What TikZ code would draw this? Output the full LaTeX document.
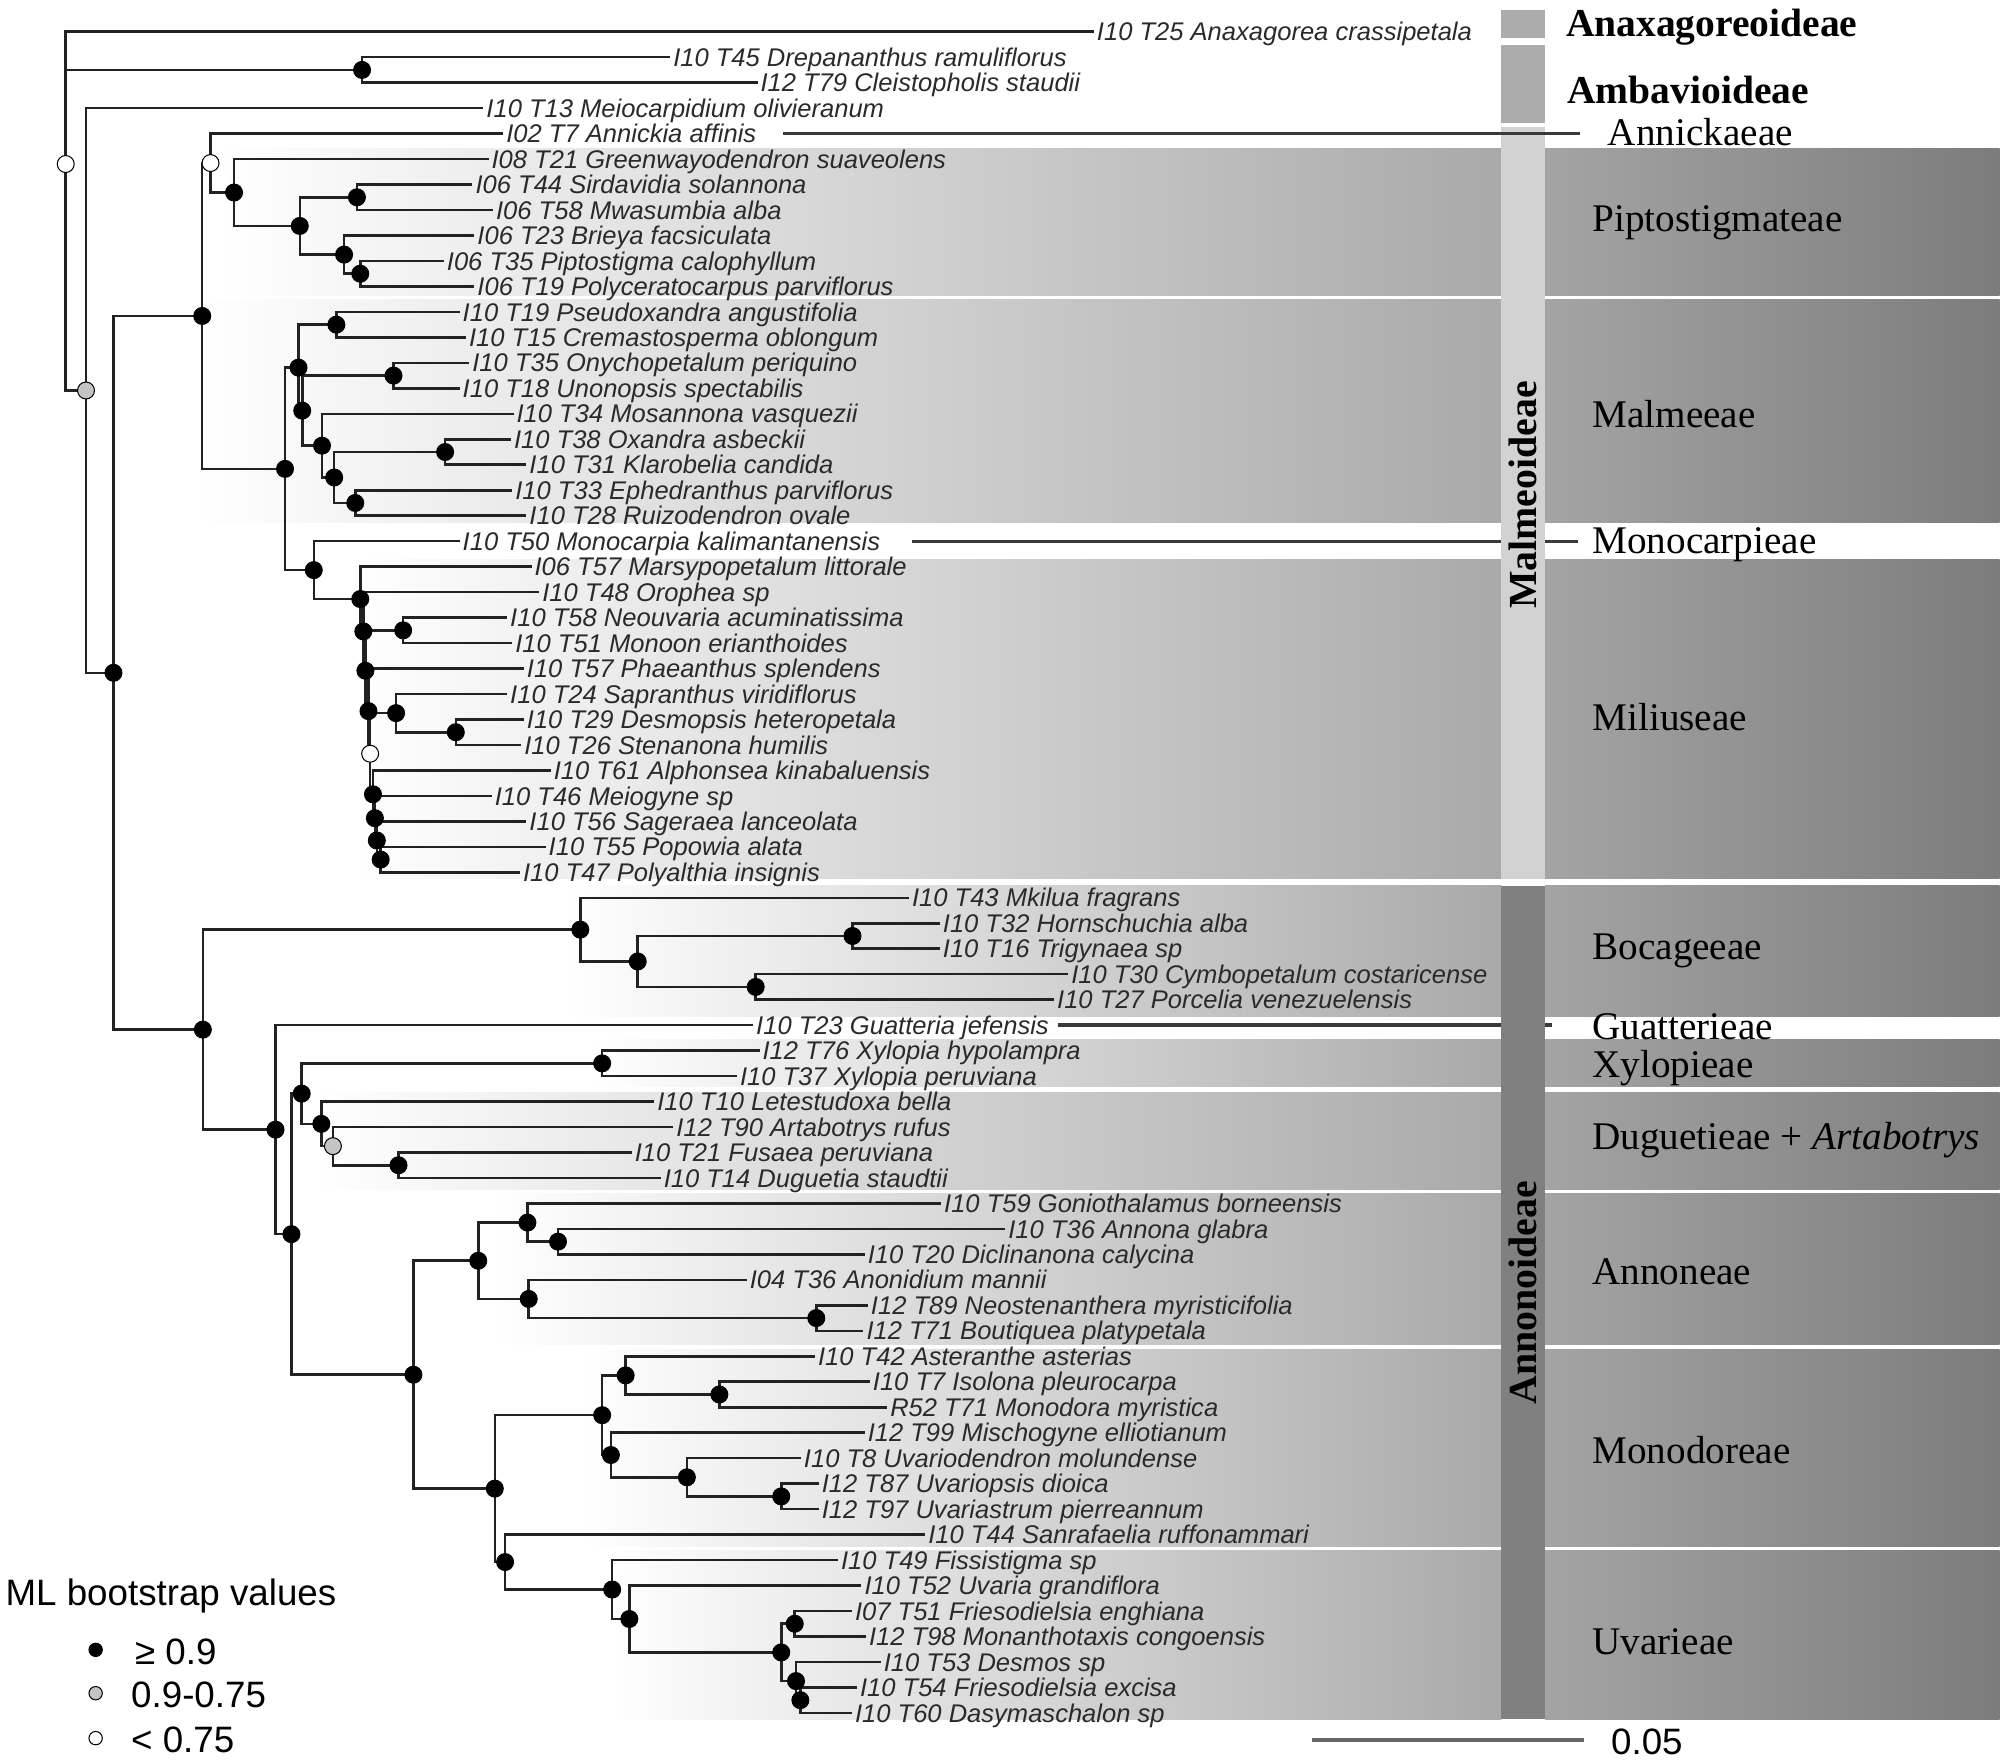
\documentclass[tikz,border=0pt]{standalone}
\usepackage{fontspec}
\setmainfont{Liberation Serif}
\setsansfont{Liberation Sans}
\definecolor{branch}{HTML}{222222}
\definecolor{txt}{HTML}{2A2A2A}
\definecolor{bandL}{HTML}{A9A9A9}
\definecolor{bandR1}{HTML}{A4A4A4}
\definecolor{bandR2}{HTML}{7C7C7C}
\definecolor{barA}{HTML}{ABABAB}
\definecolor{barM}{HTML}{D2D2D2}
\definecolor{barN}{HTML}{808080}
\definecolor{gdot}{HTML}{C4C4C4}
\definecolor{extl}{HTML}{3A3A3A}
\definecolor{scl}{HTML}{666666}
\begin{document}
\begin{tikzpicture}[x=0.5pt,y=-0.5pt,
  taxon/.style={font=\fontsize{9.95pt}{10pt}\selectfont\sffamily\itshape, anchor=west,
    inner xsep=1pt, inner ysep=0pt, text height=7.1pt, text depth=0pt, text=txt},
  br/.style={draw=branch, line width=1pt},
  dotb/.style={circle, draw=black, line width=0.4pt, inner sep=0pt, minimum size=6.6pt},
  blk/.style={dotb, fill=black},
  gry/.style={dotb, fill=gdot},
  wht/.style={dotb, fill=white},
  clade/.style={font=\fontsize{15.25pt}{16pt}\selectfont\rmfamily, anchor=west,
    inner sep=0pt, text height=10.1pt, text depth=0pt},
  cladeb/.style={font=\fontsize{15.4pt}{16pt}\selectfont\rmfamily\bfseries, anchor=west,
    inner sep=0pt, text height=10.2pt, text depth=0pt},
  subf/.style={font=\fontsize{15.5pt}{16pt}\selectfont\rmfamily\bfseries, rotate=90,
    inner sep=0pt, text height=10.3pt, text depth=0pt},
  legtext/.style={font=\fontsize{14.3pt}{15pt}\selectfont\sffamily, anchor=west,
    inner sep=0pt, text height=10.2pt, text depth=0pt},
  ext/.style={draw=extl, line width=1.3pt},
  legdot/.style={circle, draw=black, line width=0.4pt, inner sep=0pt, minimum size=5.2pt}
]
\useasboundingbox (0,0) rectangle (1564,1372.4);

% ---------- background bands ----------
\foreach \xs/\ya/\yb in {172/116/230, 154/233/407, 275/436/684.6, 440/690/792,
    460/810/846, 245/851/926.5, 385/929.5/1047.5, 455/1051/1204.5, 475/1207.5/1339}{
  \shade[left color=white, right color=bandL] (\xs,\ya) rectangle (1169.3,\yb);
  \shade[left color=bandR1, right color=bandR2] (1203.4,\ya) rectangle (1557.4,\yb);
}

% ---------- tree (row coordinates) ----------
\begin{scope}[y=-9.92pt, yshift=-2.43pt]
\foreach \i/\x/\t in {
1/852/{I10 T25 Anaxagorea crassipetala},
2/522/{I10 T45 Drepananthus ramuliflorus},
3/590/{I12 T79 Cleistopholis staudii},
4/376.5/{I10 T13 Meiocarpidium olivieranum},
5/392/{I02 T7 Annickia affinis},
6/380.5/{I08 T21 Greenwayodendron suaveolens},
7/368/{I06 T44 Sirdavidia solannona},
8/384/{I06 T58 Mwasumbia alba},
9/369.5/{I06 T23 Brieya facsiculata},
10/345.7/{I06 T35 Piptostigma calophyllum},
11/369.5/{I06 T19 Polyceratocarpus parviflorus},
12/358/{I10 T19 Pseudoxandra angustifolia},
13/363/{I10 T15 Cremastosperma oblongum},
14/365.5/{I10 T35 Onychopetalum periquino},
15/358/{I10 T18 Unonopsis spectabilis},
16/400/{I10 T34 Mosannona vasquezii},
17/398/{I10 T38 Oxandra asbeckii},
18/410/{I10 T31 Klarobelia candida},
19/399/{I10 T33 Ephedranthus parviflorus},
20/410/{I10 T28 Ruizodendron ovale},
21/358/{I10 T50 Monocarpia kalimantanensis},
22/414/{I06 T57 Marsypopetalum littorale},
23/420/{I10 T48 Orophea sp},
24/395/{I10 T58 Neouvaria acuminatissima},
25/399/{I10 T51 Monoon erianthoides},
26/408/{I10 T57 Phaeanthus splendens},
27/395/{I10 T24 Sapranthus viridiflorus},
28/408/{I10 T29 Desmopsis heteropetala},
29/406/{I10 T26 Stenanona humilis},
30/429/{I10 T61 Alphonsea kinabaluensis},
31/383/{I10 T46 Meiogyne sp},
32/410/{I10 T56 Sageraea lanceolata},
33/425/{I10 T55 Popowia alata},
34/405/{I10 T47 Polyalthia insignis},
35/708/{I10 T43 Mkilua fragrans},
36/732/{I10 T32 Hornschuchia alba},
37/732/{I10 T16 Trigynaea sp},
38/832/{I10 T30 Cymbopetalum costaricense},
39/821/{I10 T27 Porcelia venezuelensis},
40/586.6/{I10 T23 Guatteria jefensis},
41/591.6/{I12 T76 Xylopia hypolampra},
42/574/{I10 T37 Xylopia peruviana},
43/509.6/{I10 T10 Letestudoxa bella},
44/524.5/{I12 T90 Artabotrys rufus},
45/492/{I10 T21 Fusaea peruviana},
46/514.6/{I10 T14 Duguetia staudtii},
47/733/{I10 T59 Goniothalamus borneensis},
48/783/{I10 T36 Annona glabra},
49/673.5/{I10 T20 Diclinanona calycina},
50/581.6/{I04 T36 Anonidium mannii},
51/676/{I12 T89 Neostenanthera myristicifolia},
52/672.5/{I12 T71 Boutiquea platypetala},
53/634.8/{I10 T42 Asteranthe asterias},
54/677.5/{I10 T7 Isolona pleurocarpa},
55/691/{R52 T71 Monodora myristica},
56/673.5/{I12 T99 Mischogyne elliotianum},
57/623.8/{I10 T8 Uvariodendron molundense},
58/637.7/{I12 T87 Uvariopsis dioica},
59/637.7/{I12 T97 Uvariastrum pierreannum},
60/720.7/{I10 T44 Sanrafaelia ruffonammari},
61/652.7/{I10 T49 Fissistigma sp},
62/671/{I10 T52 Uvaria grandiflora},
63/663.6/{I07 T51 Friesodielsia enghiana},
64/674.5/{I12 T98 Monanthotaxis congoensis},
65/686/{I10 T53 Desmos sp},
66/667.5/{I10 T54 Friesodielsia excisa},
67/663.6/{I10 T60 Dasymaschalon sp}}{
  \node[taxon] (t\i) at (\x,\i) {\t};
}

\coordinate (nRoot) at (51.2,6.1946);
\coordinate (nDC) at (282,2.5);
\coordinate (nG) at (67,15.0838);
\coordinate (nBig) at (88.4,26.1676);
\coordinate (nMalm) at (157.5,12.1589);
\coordinate (nAnn) at (164,6.15625);
\coordinate (nPip) at (182.3,7.3125);
\coordinate (nP2) at (233.5,8.625);
\coordinate (nSM) at (278,7.5);
\coordinate (nP3) at (268,9.75);
\coordinate (nPP) at (280.6,10.5);
\coordinate (nMalMil) at (222,18.1616);
\coordinate (nM1) at (232.5,14.1875);
\coordinate (nPc) at (262,12.5);
\coordinate (nM2) at (235.4,15.875);
\coordinate (nOu) at (306.5,14.5);
\coordinate (nM3) at (250.8,17.25);
\coordinate (nM4) at (260.3,18.5);
\coordinate (nOK) at (346.7,17.5);
\coordinate (nER) at (276.7,19.5);
\coordinate (nMonoMil) at (244.4,22.1357);
\coordinate (nI) at (280.6,23.2715);
\coordinate (nH) at (283,24.543);
\coordinate (nNM) at (314,24.5);
\coordinate (nGg) at (284.6,26.0859);
\coordinate (nF) at (287,27.6719);
\coordinate (nE) at (288.3,29.3438);
\coordinate (nSap) at (308.5,27.75);
\coordinate (nDS) at (355,28.5);
\coordinate (nD) at (290.5,30.9375);
\coordinate (nC) at (292,31.875);
\coordinate (nB) at (293.5,32.75);
\coordinate (nA) at (296.5,33.5);
\coordinate (nAnn2) at (158,40.1763);
\coordinate (nBoc) at (452,36.25);
\coordinate (nB2) at (496.7,37.5);
\coordinate (nHT) at (664,36.5);
\coordinate (nCP) at (588.6,38.5);
\coordinate (nRest) at (214.6,44.1025);
\coordinate (nR2) at (227,48.2051);
\coordinate (nXD) at (235,42.6875);
\coordinate (nX) at (469,41.5);
\coordinate (nDug) at (250.3,43.875);
\coordinate (nGray) at (259.3,44.75);
\coordinate (nFD) at (310.4,45.5);
\coordinate (nAMU) at (322,53.7227);
\coordinate (nAnnon) at (372.5,49.25);
\coordinate (nGAD) at (410.8,47.75);
\coordinate (nAD) at (434.6,48.5);
\coordinate (nANB) at (411.8,50.75);
\coordinate (nNB) at (635.8,51.5);
\coordinate (nMU) at (385.4,58.1953);
\coordinate (nMon) at (469,55.3125);
\coordinate (nAIM) at (487.3,53.75);
\coordinate (nIM) at (560.3,54.5);
\coordinate (nMUU) at (475.8,56.875);
\coordinate (nUUU) at (535,57.75);
\coordinate (nUU) at (608.5,58.5);
\coordinate (nUva) at (393.4,61.0781);
\coordinate (nFUV) at (476.8,62.1563);
\coordinate (nUV) at (490.2,63.3125);
\coordinate (nEMD) at (608.5,64.625);
\coordinate (nEM) at (619,63.5);
\coordinate (nDED) at (620,65.75);
\coordinate (nED) at (623.4,66.5);

% extension lines (row 5, 21, 40)
\coordinate (eA1) at (610,5);   \coordinate (eA2) at (1231,5);
\coordinate (eM1) at (710,21);  \coordinate (eM2) at (1229.4,21);
\coordinate (eG1) at (823.9,40); \coordinate (eG2) at (1209,40);
\end{scope}

\draw[ext] (eM1) -- (eM2);
\draw[ext] (eG1) -- (eG2);

% ---------- subfamily bars ----------
\fill[barA] (1169.3,7.8) rectangle (1203.4,29.9);
\fill[barA] (1169.3,35.3) rectangle (1203.4,96);
\fill[barM] (1169.3,98.7) rectangle (1203.4,684.6);
\fill[barN] (1169.3,690) rectangle (1203.4,1339);
\node[subf] (sMalm) at (1186.4,385.5) {Malmeoideae};
\node[subf] (sAnno) at (1186.4,1007) {Annonoideae};

\draw[ext] (eA1) -- (eA2);

% ---------- branches ----------
\foreach \a/\b in {nRoot/t1.west, nRoot/nDC, nRoot/nG,
  nDC/t2.west, nDC/t3.west, nG/t4.west, nG/nBig, nBig/nMalm, nBig/nAnn2,
  nMalm/nAnn, nMalm/nMalMil, nAnn/t5.west, nAnn/nPip, nPip/t6.west, nPip/nP2,
  nP2/nSM, nP2/nP3, nSM/t7.west, nSM/t8.west, nP3/t9.west, nP3/nPP,
  nPP/t10.west, nPP/t11.west,
  nMalMil/nM1, nMalMil/nMonoMil, nM1/nPc, nM1/nM2, nPc/t12.west, nPc/t13.west,
  nM2/nOu, nM2/nM3, nOu/t14.west, nOu/t15.west, nM3/t16.west, nM3/nM4,
  nM4/nOK, nM4/nER, nOK/t17.west, nOK/t18.west, nER/t19.west, nER/t20.west,
  nMonoMil/t21.west, nMonoMil/nI, nI/t22.west, nI/nH, nH/t23.west, nH/nGg,
  nGg/nNM, nGg/nF, nNM/t24.west, nNM/t25.west, nF/t26.west, nF/nE,
  nE/nSap, nE/nD, nSap/t27.west, nSap/nDS, nDS/t28.west, nDS/t29.west,
  nD/t30.west, nD/nC, nC/t31.west, nC/nB, nB/t32.west, nB/nA, nA/t33.west, nA/t34.west,
  nAnn2/nBoc, nAnn2/nRest, nBoc/t35.west, nBoc/nB2, nB2/nHT, nB2/nCP,
  nHT/t36.west, nHT/t37.west, nCP/t38.west, nCP/t39.west,
  nRest/t40.west, nRest/nR2, nR2/nXD, nR2/nAMU, nXD/nX, nXD/nDug,
  nX/t41.west, nX/t42.west, nDug/t43.west, nDug/nGray, nGray/t44.west, nGray/nFD,
  nFD/t45.west, nFD/t46.west,
  nAMU/nAnnon, nAMU/nMU, nAnnon/nGAD, nAnnon/nANB, nGAD/t47.west, nGAD/nAD,
  nAD/t48.west, nAD/t49.west, nANB/t50.west, nANB/nNB, nNB/t51.west, nNB/t52.west,
  nMU/nMon, nMU/nUva, nMon/nAIM, nMon/nMUU, nAIM/t53.west, nAIM/nIM,
  nIM/t54.west, nIM/t55.west, nMUU/t56.west, nMUU/nUUU, nUUU/t57.west, nUUU/nUU,
  nUU/t58.west, nUU/t59.west,
  nUva/t60.west, nUva/nFUV, nFUV/t61.west, nFUV/nUV, nUV/t62.west, nUV/nEMD,
  nEMD/nEM, nEMD/nDED, nEM/t63.west, nEM/t64.west, nDED/t65.west, nDED/nED,
  nED/t66.west, nED/t67.west}{
  \draw[br] (\a) |- (\b);
}

% ---------- support dots ----------
\foreach \n/\s in {nRoot/wht, nDC/blk, nG/gry, nBig/blk, nMalm/blk, nAnn/wht,
  nPip/blk, nP2/blk, nSM/blk, nP3/blk, nPP/blk, nMalMil/blk, nM1/blk, nPc/blk,
  nM2/blk, nOu/blk, nM3/blk, nM4/blk, nOK/blk, nER/blk, nMonoMil/blk, nI/blk,
  nH/blk, nNM/blk, nGg/blk, nF/blk, nE/wht, nSap/blk, nDS/blk, nD/blk, nC/blk,
  nB/blk, nA/blk, nAnn2/blk, nBoc/blk, nB2/blk, nHT/blk, nCP/blk, nRest/blk,
  nR2/blk, nXD/blk, nX/blk, nDug/blk, nGray/gry, nFD/blk, nAMU/blk, nAnnon/blk,
  nGAD/blk, nAD/blk, nANB/blk, nNB/blk, nMU/blk, nMon/blk, nAIM/blk, nIM/blk,
  nMUU/blk, nUUU/blk, nUU/blk, nUva/blk, nFUV/blk, nUV/blk, nEMD/blk, nEM/blk,
  nDED/blk, nED/blk}{
  \node[\s] (d\n) at (\n) {};
}

% ---------- clade labels ----------
\node[cladeb] (cAnax) at (1219.4,18.6) {Anaxagoreoideae};
\node[cladeb] (cAmba) at (1220.4,70.7) {Ambavioideae};
\node[clade] (cAnni) at (1252,103.2) {Annickaeae};
\node[clade] (cPipt) at (1240,170) {Piptostigmateae};
\node[clade] (cMalm) at (1240,323.2) {Malmeeae};
\node[clade] (cMono) at (1240,421.2) {Monocarpieae};
\node[clade] (cMili) at (1240,559) {Miliuseae};
\node[clade] (cBoca) at (1240,737.3) {Bocageeae};
\node[clade] (cGuat) at (1240,799.6) {Guatterieae};
\node[clade] (cXylo) at (1240,829.4) {Xylopieae};
\node[clade] (cDugu) at (1240,885.3) {Duguetieae + \textit{Artabotrys}};
\node[clade] (cAnno) at (1240,990.1) {Annoneae};
\node[clade] (cMonod) at (1240,1130) {Monodoreae};
\node[clade] (cUvar) at (1240,1278.6) {Uvarieae};

% ---------- legend ----------
\node[legtext] (legT) at (4,1240.5) {ML bootstrap values};
\node[legdot, fill=black] (lg1) at (74.5,1285) {};
\node[legdot, fill=gdot] (lg2) at (74.5,1318.8) {};
\node[legdot, fill=white] (lg3) at (74.5,1353.8) {};
\node[legtext] (lgt1) at (104.8,1286.4) {≥ 0.9};
\node[legtext] (lgt2) at (101.8,1320) {0.9-0.75};
\node[legtext] (lgt3) at (101.8,1355) {< 0.75};

% ---------- scale bar ----------
\coordinate (sb1) at (1021.6,1355);
\coordinate (sb2) at (1233.4,1355);
\draw[draw=scl, line width=1.5pt] (sb1) -- (sb2);
\node[legtext] (sbl) at (1254.5,1356) {0.05};
\end{tikzpicture}
\end{document}
